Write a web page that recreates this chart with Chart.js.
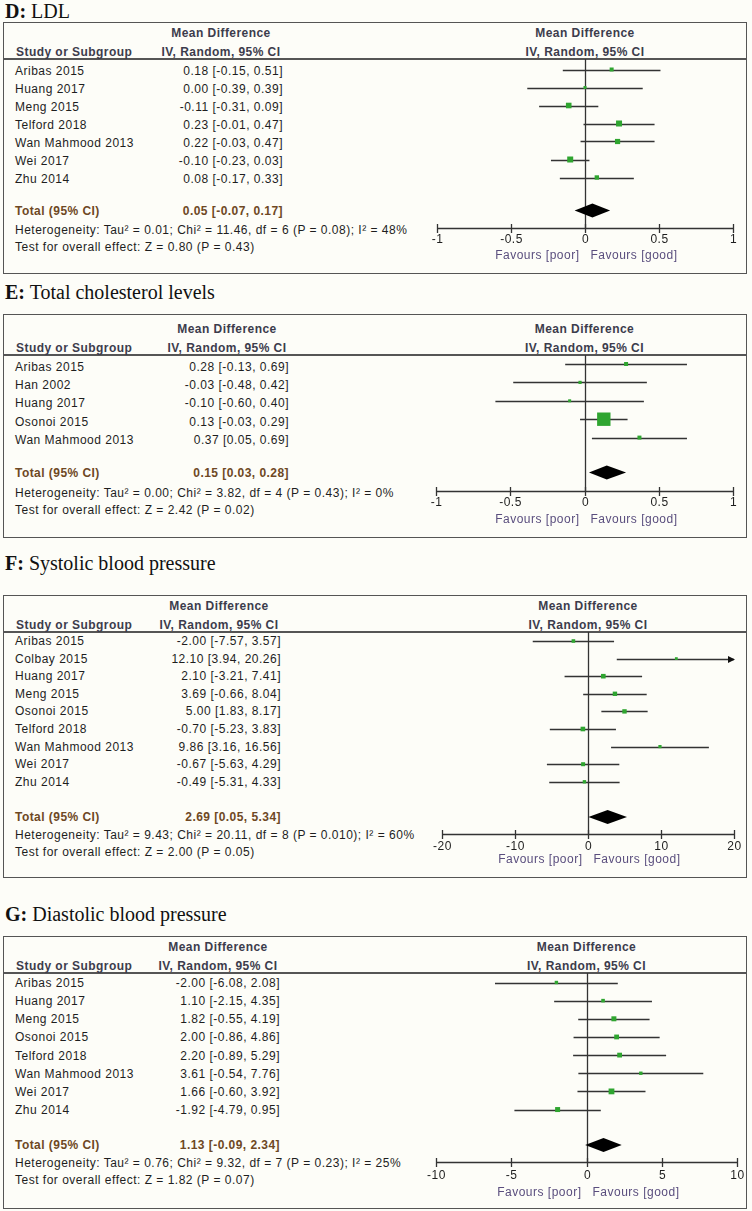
<!DOCTYPE html>
<html>
<head>
<meta charset="utf-8">
<script src="https://cdn.jsdelivr.net/npm/chart.js"></script>
<style>
  body { margin: 0; background: #fdfdf8; }
  #page { position: relative; width: 752px; height: 1211px; overflow: hidden;
          font-family: "Liberation Sans", Arial, sans-serif; font-size: 12px; color: #1e1e1e; }
  .t { position: absolute; line-height: 14px; white-space: nowrap; letter-spacing: 0.5px; }
  .hd { font-weight: bold; color: #3c3c4c; letter-spacing: 0.45px; }
  .tot { font-weight: bold; color: #6e4824; letter-spacing: 0.45px; }
  .ttl { position: absolute; left: 5px; font-family: "Liberation Serif", "Times New Roman", serif;
         font-size: 20px; line-height: 22px; color: #111; white-space: nowrap; }
  .box { position: absolute; left: 3px; width: 744px; border: 1.5px solid #555; box-sizing: border-box; }
  .sep { position: absolute; left: 3px; width: 744px; height: 1.5px; background: #555; }
  canvas { position: absolute; left: 3px; }
</style>
</head>
<body>
<div id="page"></div>
<script>
// D: LDL
const ldlStudies = ['Aribas 2015', 'Huang 2017', 'Meng 2015', 'Telford 2018', 'Wan Mahmood 2013', 'Wei 2017', 'Zhu 2014'];
const ldlMean = [0.18, 0.00, -0.11, 0.23, 0.22, -0.10, 0.08];
const ldlLow  = [-0.15, -0.39, -0.31, -0.01, -0.03, -0.23, -0.17];
const ldlHigh = [0.51, 0.39, 0.09, 0.47, 0.47, 0.03, 0.33];
const ldlTotal = [0.05, -0.07, 0.17];
const ldlTicks = [-1, -0.5, 0, 0.5, 1];
const ldlHet = 'Heterogeneity: Tau² = 0.01; Chi² = 11.46, df = 6 (P = 0.08); I² = 48%';
const ldlTest = 'Test for overall effect: Z = 0.80 (P = 0.43)';

// E: Total cholesterol
const tcStudies = ['Aribas 2015', 'Han 2002', 'Huang 2017', 'Osonoi 2015', 'Wan Mahmood 2013'];
const tcMean = [0.28, -0.03, -0.10, 0.13, 0.37];
const tcLow  = [-0.13, -0.48, -0.60, -0.03, 0.05];
const tcHigh = [0.69, 0.42, 0.40, 0.29, 0.69];
const tcTotal = [0.15, 0.03, 0.28];
const tcTicks = [-1, -0.5, 0, 0.5, 1];
const tcHet = 'Heterogeneity: Tau² = 0.00; Chi² = 3.82, df = 4 (P = 0.43); I² = 0%';
const tcTest = 'Test for overall effect: Z = 2.42 (P = 0.02)';

// F: Systolic blood pressure
const sbpStudies = ['Aribas 2015', 'Colbay 2015', 'Huang 2017', 'Meng 2015', 'Osonoi 2015', 'Telford 2018', 'Wan Mahmood 2013', 'Wei 2017', 'Zhu 2014'];
const sbpMean = [-2.00, 12.10, 2.10, 3.69, 5.00, -0.70, 9.86, -0.67, -0.49];
const sbpLow  = [-7.57, 3.94, -3.21, -0.66, 1.83, -5.23, 3.16, -5.63, -5.31];
const sbpHigh = [3.57, 20.26, 7.41, 8.04, 8.17, 3.83, 16.56, 4.29, 4.33];
const sbpTotal = [2.69, 0.05, 5.34];
const sbpTicks = [-20, -10, 0, 10, 20];
const sbpHet = 'Heterogeneity: Tau² = 9.43; Chi² = 20.11, df = 8 (P = 0.010); I² = 60%';
const sbpTest = 'Test for overall effect: Z = 2.00 (P = 0.05)';

// G: Diastolic blood pressure
const dbpStudies = ['Aribas 2015', 'Huang 2017', 'Meng 2015', 'Osonoi 2015', 'Telford 2018', 'Wan Mahmood 2013', 'Wei 2017', 'Zhu 2014'];
const dbpMean = [-2.00, 1.10, 1.82, 2.00, 2.20, 3.61, 1.66, -1.92];
const dbpLow  = [-6.08, -2.15, -0.55, -0.86, -0.89, -0.54, -0.60, -4.79];
const dbpHigh = [2.08, 4.35, 4.19, 4.86, 5.29, 7.76, 3.92, 0.95];
const dbpTotal = [1.13, -0.09, 2.34];
const dbpTicks = [-10, -5, 0, 5, 10];
const dbpHet = 'Heterogeneity: Tau² = 0.76; Chi² = 9.32, df = 7 (P = 0.23); I² = 25%';
const dbpTest = 'Test for overall effect: Z = 1.82 (P = 0.07)';

// marker half-sizes in px (study weights as drawn)
const ldlSize = [2, 1.5, 2.8, 3, 2.6, 3, 2.2];
const tcSize = [2, 1.6, 1.5, 6.7, 2];
const sbpSize = [1.8, 1.4, 2.3, 2.2, 2.2, 2.3, 1.6, 2, 1.7];
const dbpSize = [1.7, 1.8, 2.5, 2.4, 2.4, 1.7, 2.9, 2.5];

const GREEN = '#2fa530';
const INK = '#333';
const FAV = '#5a4e7e';

const panels = [
  { key: 'D:', name: 'LDL', studies: ldlStudies, mean: ldlMean, low: ldlLow, high: ldlHigh, total: ldlTotal,
    ticks: ldlTicks, het: ldlHet, test: ldlTest, size: ldlSize,
    L: { titleY: 11, top: 22, sep: 59, row0: 71, gap: 18, mark: -1.5, totalY: 210.5, hetY: 229.5, testY: 247,
         axisY: 228, tickY: 240, favY: 256, bottom: 274, valRight: 283, xLeft: 437, xRight: 733 } },
  { key: 'E:', name: 'Total cholesterol levels', studies: tcStudies, mean: tcMean, low: tcLow, high: tcHigh, total: tcTotal,
    ticks: tcTicks, het: tcHet, test: tcTest, size: tcSize,
    L: { titleY: 292, top: 314, sep: 355, row0: 366.5, gap: 18.4, mark: -2.5, totalY: 472.5, hetY: 493, testY: 510,
         axisY: 491, tickY: 503, favY: 520, bottom: 538, valRight: 289, xLeft: 436, xRight: 733 } },
  { key: 'F:', name: 'Systolic blood pressure', studies: sbpStudies, mean: sbpMean, low: sbpLow, high: sbpHigh, total: sbpTotal,
    ticks: sbpTicks, het: sbpHet, test: sbpTest, size: sbpSize,
    L: { titleY: 563, top: 595, sep: 632, row0: 641, gap: 17.6, mark: 0, totalY: 817, hetY: 835, testY: 852,
         axisY: 834, tickY: 847, favY: 860, bottom: 878, valRight: 281, xLeft: 442, xRight: 734 } },
  { key: 'G:', name: 'Diastolic blood pressure', studies: dbpStudies, mean: dbpMean, low: dbpLow, high: dbpHigh, total: dbpTotal,
    ticks: dbpTicks, het: dbpHet, test: dbpTest, size: dbpSize,
    L: { titleY: 914, top: 936, sep: 973, row0: 983, gap: 18.15, mark: -0.5, totalY: 1145, hetY: 1163, testY: 1180,
         axisY: 1162, tickY: 1176, favY: 1193, bottom: 1209, valRight: 280, xLeft: 436, xRight: 737 } }
];

const page = document.getElementById('page');

function addText(str, x, y, align, cls) {
  const d = document.createElement('div');
  d.className = 't' + (cls ? ' ' + cls : '');
  d.textContent = str;
  d.style.top = (y - 7) + 'px';
  if (align === 'right') d.style.right = (752 - x) + 'px';
  else if (align === 'center') { d.style.left = x + 'px'; d.style.transform = 'translateX(-50%)'; }
  else d.style.left = x + 'px';
  page.appendChild(d);
}

function ci(m, lo, hi) {
  return m.toFixed(2) + ' [' + lo.toFixed(2) + ', ' + hi.toFixed(2) + ']';
}

function forestPlugin(p) {
  const L = p.L;
  const m0 = L.row0 + L.mark;
  return {
    id: 'forest',
    beforeDatasetsDraw(chart) {
      const { ctx, chartArea: a, scales: { x, y } } = chart;
      ctx.save();
      ctx.strokeStyle = INK;
      ctx.lineWidth = 1.3;

      // line of no effect
      const xz = Math.round(x.getPixelForValue(0)) + 0.5;
      ctx.beginPath(); ctx.moveTo(xz, a.top); ctx.lineTo(xz, a.bottom); ctx.stroke();

      // confidence intervals
      p.mean.forEach((m, i) => {
        const yy = Math.round(y.getPixelForValue(i)) + 0.5;
        const lo = Math.max(p.low[i], x.min), hi = Math.min(p.high[i], x.max);
        const x1 = x.getPixelForValue(lo), x2 = x.getPixelForValue(hi);
        ctx.beginPath(); ctx.moveTo(x1, yy); ctx.lineTo(x2, yy); ctx.stroke();
        if (p.high[i] > x.max) {
          ctx.fillStyle = '#111';
          ctx.beginPath(); ctx.moveTo(x2 + 1, yy); ctx.lineTo(x2 - 6, yy - 3.5); ctx.lineTo(x2 - 6, yy + 3.5);
          ctx.closePath(); ctx.fill();
        }
        if (p.low[i] < x.min) {
          ctx.fillStyle = '#111';
          ctx.beginPath(); ctx.moveTo(x1 - 1, yy); ctx.lineTo(x1 + 6, yy - 3.5); ctx.lineTo(x1 + 6, yy + 3.5);
          ctx.closePath(); ctx.fill();
        }
      });

      // x axis
      const ya = Math.round(a.bottom) + 0.5;
      ctx.lineWidth = 1.5;
      ctx.beginPath(); ctx.moveTo(x.getPixelForValue(x.min), ya); ctx.lineTo(x.getPixelForValue(x.max), ya); ctx.stroke();
      ctx.lineWidth = 1.3;
      ctx.fillStyle = '#1e1e1e';
      ctx.font = '12px "Liberation Sans", Arial, sans-serif';
      ctx.letterSpacing = '0.5px';
      ctx.textAlign = 'center';
      ctx.textBaseline = 'middle';
      p.ticks.forEach(t => {
        const tx = Math.round(x.getPixelForValue(t)) + 0.5;
        ctx.beginPath(); ctx.moveTo(tx, ya - 4.5); ctx.lineTo(tx, ya + 4.5); ctx.stroke();
        ctx.fillText(String(t), tx, L.tickY - L.top);
      });
      ctx.fillStyle = FAV;
      ctx.textAlign = 'right';
      ctx.fillText('Favours [poor]', xz - 6, L.favY - L.top);
      ctx.textAlign = 'left';
      ctx.fillText('Favours [good]', xz + 5, L.favY - L.top);
      ctx.restore();
    },
    afterDatasetsDraw(chart) {
      const { ctx, scales: { x, y } } = chart;
      const yd = y.getPixelForValue((L.totalY - m0) / L.gap);
      const xm = x.getPixelForValue(p.total[0]);
      const xl = x.getPixelForValue(p.total[1]);
      const xr = x.getPixelForValue(p.total[2]);
      ctx.save();
      ctx.fillStyle = '#000';
      ctx.beginPath();
      ctx.moveTo(xl, yd); ctx.lineTo(xm, yd - 7); ctx.lineTo(xr, yd); ctx.lineTo(xm, yd + 7);
      ctx.closePath(); ctx.fill();
      ctx.restore();
    }
  };
}

panels.forEach(p => {
  const L = p.L;

  // title
  const t = document.createElement('div');
  t.className = 'ttl';
  t.style.top = (L.titleY - 11) + 'px';
  const b = document.createElement('b');
  b.textContent = p.key;
  t.appendChild(b);
  t.appendChild(document.createTextNode(' ' + p.name));
  page.appendChild(t);

  // frame
  const box = document.createElement('div');
  box.className = 'box';
  box.style.top = L.top + 'px';
  box.style.height = (L.bottom - L.top) + 'px';
  page.appendChild(box);
  const sep = document.createElement('div');
  sep.className = 'sep';
  sep.style.top = (L.sep - 0.75) + 'px';
  page.appendChild(sep);

  // headers
  const hc = L.valRight - 62;
  addText('Mean Difference', hc, L.sep - 26.5, 'center', 'hd');
  addText('IV, Random, 95% CI', hc, L.sep - 7.5, 'center', 'hd');
  addText('Study or Subgroup', 16, L.sep - 7.5, 'left', 'hd');
  const zeroPx = L.xLeft + (L.xRight - L.xLeft) * (0 - p.ticks[0]) / (p.ticks[p.ticks.length - 1] - p.ticks[0]);
  addText('Mean Difference', zeroPx, L.sep - 26.5, 'center', 'hd');
  addText('IV, Random, 95% CI', zeroPx, L.sep - 7.5, 'center', 'hd');

  // rows
  p.studies.forEach((s, i) => {
    const yy = L.row0 + i * L.gap;
    addText(s, 15, yy, 'left');
    addText(ci(p.mean[i], p.low[i], p.high[i]), L.valRight, yy, 'right');
  });
  addText('Total (95% CI)', 15, L.totalY, 'left', 'tot');
  addText(ci(p.total[0], p.total[1], p.total[2]), L.valRight, L.totalY, 'right', 'tot');
  addText(p.het, 15, L.hetY, 'left');
  addText(p.test, 15, L.testY, 'left');

  // plot
  const cv = document.createElement('canvas');
  cv.width = 744;
  cv.height = L.bottom - L.top;
  cv.style.top = L.top + 'px';
  page.appendChild(cv);
  const m0 = L.row0 + L.mark;
  new Chart(cv, {
    type: 'scatter',
    data: {
      datasets: [{
        data: p.mean.map((m, i) => ({ x: m, y: i })),
        pointStyle: 'rect',
        pointRadius: p.size.map(s => s / Math.SQRT1_2),
        backgroundColor: GREEN,
        borderWidth: 0
      }]
    },
    options: {
      responsive: false,
      animation: false,
      events: [],
      layout: { padding: { left: L.xLeft - 3, right: 747 - L.xRight, top: L.sep - L.top, bottom: L.bottom - L.axisY } },
      scales: {
        x: { type: 'linear', display: false, min: p.ticks[0], max: p.ticks[p.ticks.length - 1] },
        y: { type: 'linear', display: false, reverse: true, min: (L.sep - m0) / L.gap, max: (L.axisY - m0) / L.gap }
      },
      plugins: { legend: { display: false }, tooltip: { enabled: false } }
    },
    plugins: [forestPlugin(p)]
  });
});
</script>
</body>
</html>
